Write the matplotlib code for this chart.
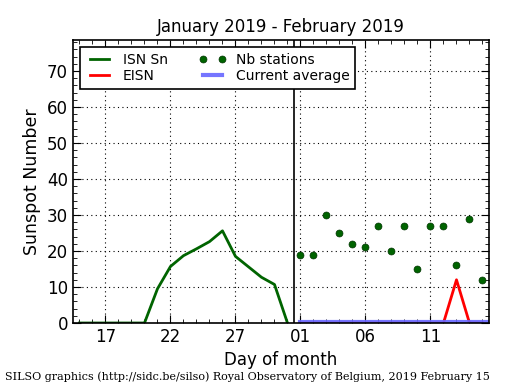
import numpy as np
from matplotlib import pyplot as plt
from matplotlib.ticker import MultipleLocator

# day index: Jan 1 = 1, Feb 1 = 32
isn_days = list(range(15, 32))
isn_values = [0, 0, 0, 0, 0, 0, 9.5, 15.7, 18.7, 20.6, 22.6, 25.6, 18.5, 15.6, 12.7, 10.7, 0]

feb_days = list(range(32, 47))
stations = [19, 19, 30, 25, 22, 21, 27, 20, 27, 15, 27, 27, 16, 29, 12]
eisn = [0, 0, 0, 0, 0, 0, 0, 0, 0, 0, 0, 0, 12, 0, 0]
current_avg = 0.4

tick_pos = [17, 22, 27, 32, 37, 42]
tick_labels = ['17', '22', '27', '01', '06', '11']

plt.rcParams['xtick.direction'] = 'in'
plt.rcParams['ytick.direction'] = 'in'

fig = plt.figure(figsize=(5.15, 3.9), dpi=100)
ax = fig.add_axes([0.1417, 0.1718, 0.8078, 0.7256])

ax.plot(isn_days, isn_values, color='#006400', lw=2, label='ISN Sn')
ax.plot(feb_days, eisn, color='red', lw=2, label='EISN')
ax.plot(feb_days, stations, 'o', color='#006400', ms=5, mec='#003300', mew=0.5,
        label='Nb stations')
ax.plot([feb_days[0], 46.5], [current_avg, current_avg], color='#6666ff', lw=3,
        alpha=0.9, label='Current average')
ax.axvline(31.5, color='black', lw=1.2)

ax.set_xlim(14.5, 46.5)
ax.set_ylim(0, 78.6)
ax.set_xticks(tick_pos)
ax.set_xticklabels(tick_labels)
ax.xaxis.set_minor_locator(MultipleLocator(1))
ax.yaxis.set_major_locator(MultipleLocator(10))
ax.yaxis.set_minor_locator(MultipleLocator(2))
ax.tick_params(which='both', top=True, right=True, labelsize=12)
ax.tick_params(which='major', length=6)
ax.tick_params(which='minor', length=3)
ax.grid(True, which='major', color='black', linestyle=(0, (1, 3)), linewidth=0.8)
for spine in ax.spines.values():
    spine.set_linewidth(1.2)

ax.set_title('January 2019 - February 2019', fontsize=12)
ax.set_xlabel('Day of month', fontsize=12)
ax.set_ylabel('Sunspot Number', fontsize=12.5)

leg = ax.legend(loc='upper left', ncol=2, numpoints=2, fontsize=10, fancybox=False,
                borderaxespad=0.5, handlelength=2.0, columnspacing=2.2,
                handletextpad=0.7, labelspacing=0.2, framealpha=1)
leg.get_frame().set_edgecolor('black')
leg.get_frame().set_linewidth(1.2)

fig.text(0.01, 0.025, 'SILSO graphics (http://sidc.be/silso) Royal Observatory of Belgium, 2019 February 15',
         family='DejaVu Serif', fontsize=8)

fig.savefig('out.png', dpi=100)
